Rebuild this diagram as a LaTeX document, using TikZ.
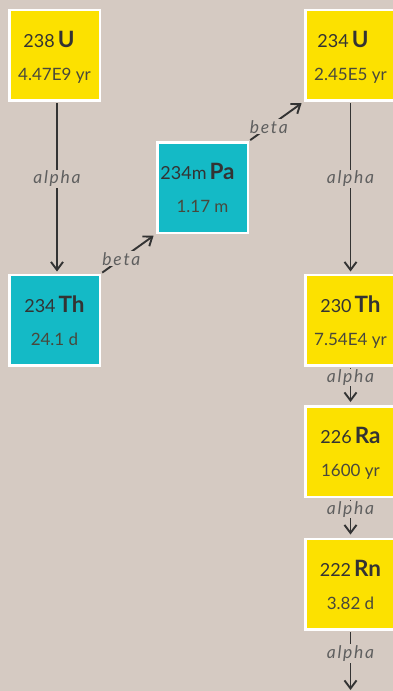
\documentclass[tikz,border=0pt]{standalone}
\usepackage{fontspec}
\setmainfont{Lato}
\newfontfamily\lblfont[LetterSpace=10]{Lato}
\usetikzlibrary{arrows.meta}
\definecolor{bgc}{RGB}{213,202,194}
\definecolor{yel}{RGB}{252,225,0}
\definecolor{teal}{RGB}{20,186,198}
\definecolor{ink}{RGB}{51,51,51}
\definecolor{hl}{RGB}{72,72,60}
\definecolor{lblc}{RGB}{95,95,95}
\tikzset{
  isobox/.style={draw=white, line width=2.5pt, minimum size=90.5pt, inner sep=0pt},
  ybox/.style={isobox, fill=yel},
  tbox/.style={isobox, fill=teal},
  nuc/.style={anchor=base, inner sep=0pt, text=ink, font=\fontsize{18}{20}\selectfont},
  half/.style={anchor=base, inner sep=0pt, text=hl, font=\fontsize{17}{20}\selectfont},
  arr/.style={draw=ink, line width=1.9pt, -{Straight Barb[length=8pt,width=12pt,line width=1.9pt]}},
  lbl/.style={fill=bgc, inner sep=1.5pt, text=lblc, font=\lblfont\fontsize{17.5}{20}\selectfont\itshape},
}
\newcommand{\el}[1]{\,{\fontsize{22.5}{24}\selectfont\bfseries #1}}
\begin{document}
\begin{tikzpicture}[x=1pt,y=-1pt]
\useasboundingbox (0,0) rectangle (393,691);
\fill[bgc] (0,0) rectangle (393,691);
% boxes
\node[ybox] (u238) at (54.5,55) {};
\node[ybox] (u234) at (350.5,55) {};
\node[tbox] (pa234) at (202.5,187.5) {};
\node[tbox] (th234) at (54.5,320) {};
\node[ybox] (th230) at (350.5,320) {};
\node[ybox] (ra226) at (350.5,451.5) {};
\node[ybox] (rn222) at (350.5,584) {};
% texts
\node[nuc] (u238a) at ([xshift=-5.5pt,yshift=8pt]u238.center) {238\el{U}};
\node[half] (u238b) at ([yshift=-25pt]u238.center) {4.47E9 yr};
\node[nuc] (u234a) at ([xshift=-7.5pt,yshift=8pt]u234.center) {234\el{U}};
\node[half] (u234b) at ([yshift=-25pt]u234.center) {2.45E5 yr};
\node[nuc] (pa234a) at ([xshift=-5pt,yshift=8pt]pa234.center) {234m\el{Pa}};
\node[half] (pa234b) at ([yshift=-25pt]pa234.center) {1.17 m};
\node[nuc] (th234a) at ([yshift=8pt]th234.center) {234\el{Th}};
\node[half] (th234b) at ([yshift=-25pt]th234.center) {24.1 d};
\node[nuc] (th230a) at ([yshift=8pt]th230.center) {230\el{Th}};
\node[half] (th230b) at ([yshift=-25pt]th230.center) {7.54E4 yr};
\node[nuc] (ra226a) at ([yshift=8pt]ra226.center) {226\el{Ra}};
\node[half] (ra226b) at ([yshift=-25pt]ra226.center) {1600 yr};
\node[nuc] (rn222a) at ([yshift=8pt]rn222.center) {222\el{Rn}};
\node[half] (rn222b) at ([yshift=-25pt]rn222.center) {3.82 d};
\coordinate (endpt) at (350.5,690);
% connectors
\draw[arr, shorten <=1.5pt, shorten >=2pt] ([xshift=2.5pt]u238.south) -- ([xshift=2.5pt]th234.north)
  node[lbl, pos=0.5, yshift=8.5pt] (l1) {alpha};
\draw[arr, shorten <=1.5pt, shorten >=3pt] (th234.north east) -- (pa234.south west)
  node[lbl, pos=0.37, inner sep=1pt] (l2) {beta};
\draw[arr, shorten <=1.5pt, shorten >=3pt] (pa234.north east) -- (u234.south west)
  node[lbl, pos=0.36, inner sep=1pt] (l3) {beta};
\draw[arr, shorten <=1.5pt, shorten >=2pt] (u234.south) -- (th230.north)
  node[lbl, pos=0.5, yshift=8.5pt] (l4) {alpha};
\draw[arr, shorten <=1.5pt, shorten >=3pt] (th230.south) -- (ra226.north)
  node[lbl, pos=0.5, yshift=8.5pt, inner sep=0.5pt] (l5) {alpha};
\draw[arr, shorten <=1.5pt, shorten >=3pt] (ra226.south) -- (rn222.north)
  node[lbl, pos=0.5, yshift=8.5pt, inner sep=0.5pt] (l6) {alpha};
\draw[arr, shorten <=1.5pt] (rn222.south) -- (endpt)
  node[lbl, pos=0.5, yshift=7pt] (l7) {alpha};
\end{tikzpicture}
\end{document}
